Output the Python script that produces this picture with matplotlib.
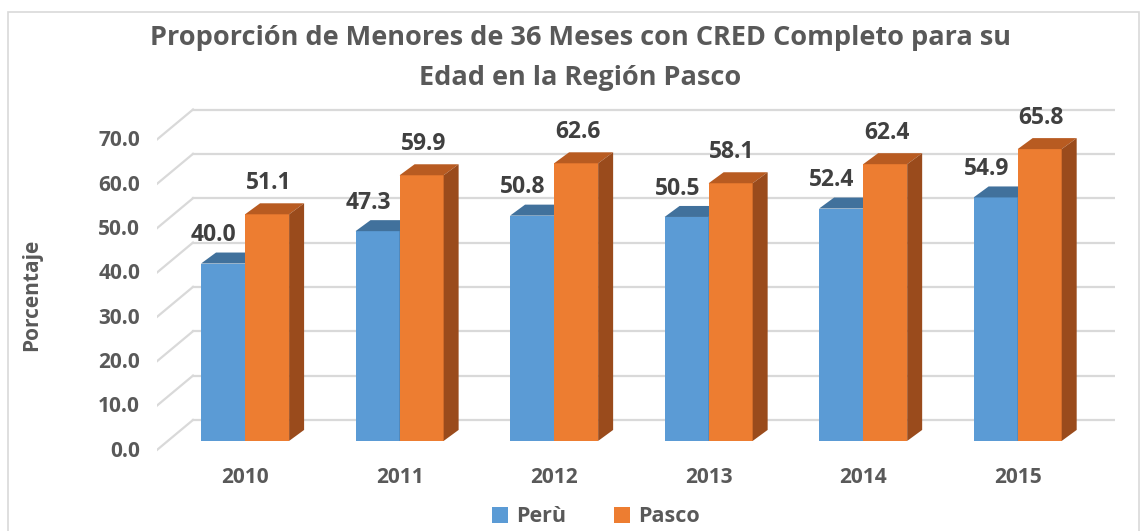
import numpy as np
import matplotlib
matplotlib.use("Agg")
import matplotlib.pyplot as plt
from matplotlib.patches import Polygon, Rectangle

years = ["2010", "2011", "2012", "2013", "2014", "2015"]
peru = [40.0, 47.3, 50.8, 50.5, 52.4, 54.9]
pasco = [51.1, 59.9, 62.6, 58.1, 62.4, 65.8]
yticks = [0, 10, 20, 30, 40, 50, 60, 70]

plt.rcParams['font.family'] = ['Open Sans', 'DejaVu Sans']
plt.rcParams['font.weight'] = 'bold'

blue, blue_top = "#5B9BD5", "#41719C"
orange, orange_top, orange_side = "#ED7D31", "#B85B21", "#9A4B1C"
grid_c = "#D9D9D9"
txt_c = "#595959"
lab_c = "#404040"

fig = plt.figure(figsize=(11.46, 5.31), dpi=100)
ax = fig.add_axes([157 / 1146, 1 - 460 / 531, 958 / 1146, 365 / 531])
x0, x1 = -0.57, 5.63
ax.set_xlim(x0, x1)
ax.set_ylim(-4.3, 78.0)
for s in ax.spines.values():
    s.set_visible(False)
ax.set_yticks([])

# pseudo 3d geometry (data units)
wall_dx, floor_dy, wall_dy = 0.233, -2.03, 4.73
w = 0.285
bdx, bdy = 0.097, 2.48

# walls: back gridlines and left diagonal
for v in yticks:
    ax.plot([x0 + wall_dx, x1], [v + wall_dy] * 2, color=grid_c, lw=1.6, zorder=1)
    ax.plot([x0, x0 + wall_dx], [v + floor_dy, v + wall_dy], color=grid_c, lw=1.6, zorder=1)
    ax.text(x0 - 0.11, v + floor_dy - 0.3, f"{v:.1f}", ha='right', va='center',
            fontsize=15, color=txt_c, clip_on=False)


def bar3d(xc, v, front, top, side, z):
    l, r = xc - w / 2, xc + w / 2
    ax.add_patch(Rectangle((l, 0), w, v, facecolor=front, edgecolor='none', zorder=z))
    ax.add_patch(Polygon([(l, v), (r, v), (r + bdx, v + bdy), (l + bdx, v + bdy)],
                         closed=True, facecolor=top, edgecolor='none', zorder=z))
    ax.add_patch(Polygon([(r, 0), (r + bdx, bdy), (r + bdx, v + bdy), (r, v)],
                         closed=True, facecolor=side, edgecolor='none', zorder=z))


xs = np.arange(len(years))
for i, x in enumerate(xs):
    bar3d(x - w / 2, peru[i], blue, blue_top, blue_top, 3)
    bar3d(x + w / 2, pasco[i], orange, orange_top, orange_side, 4)
    ax.text(x - w / 2 - 0.06, peru[i] + bdy + 1.2, f"{peru[i]:.1f}", ha='center',
            va='bottom', fontsize=16.5, color=lab_c, zorder=6)
    ax.text(x + w / 2 + 0.01, pasco[i] + bdy + 1.9, f"{pasco[i]:.1f}", ha='center',
            va='bottom', fontsize=16.5, color=lab_c, zorder=6)

ax.set_xticks(xs, years)
ax.tick_params(axis='x', length=0, pad=5, labelsize=15, labelcolor=txt_c)

fig.text(580 / 1146, 1 - 38 / 531, "Proporción de Menores de 36 Meses con CRED Completo para su",
         ha='center', va='center', fontsize=19.5, color=txt_c)
fig.text(580 / 1146, 1 - 78 / 531, "Edad en la Región Pasco",
         ha='center', va='center', fontsize=19.5, color=txt_c)
fig.text(32 / 1146, 1 - 295 / 531, "Porcentaje", rotation=90, ha='center', va='center',
         fontsize=15, color=txt_c)

handles = [Rectangle((0, 0), 1, 1, facecolor=blue), Rectangle((0, 0), 1, 1, facecolor=orange)]
fig.legend(handles, ["Perù", "Pasco"], loc='center', bbox_to_anchor=(596 / 1146, 14 / 531),
           ncol=2, frameon=False, handlelength=0.75, handleheight=0.75, handletextpad=0.4,
           columnspacing=2.2, labelcolor=txt_c, prop={'size': 15.5, 'weight': 'bold'})

fig.add_artist(Rectangle((8 / 1146, -0.1), 1131 / 1146, 1.1 - 12 / 531, transform=fig.transFigure,
                         fill=False, edgecolor=grid_c, lw=1.2))

fig.savefig("out.png", dpi=100)
